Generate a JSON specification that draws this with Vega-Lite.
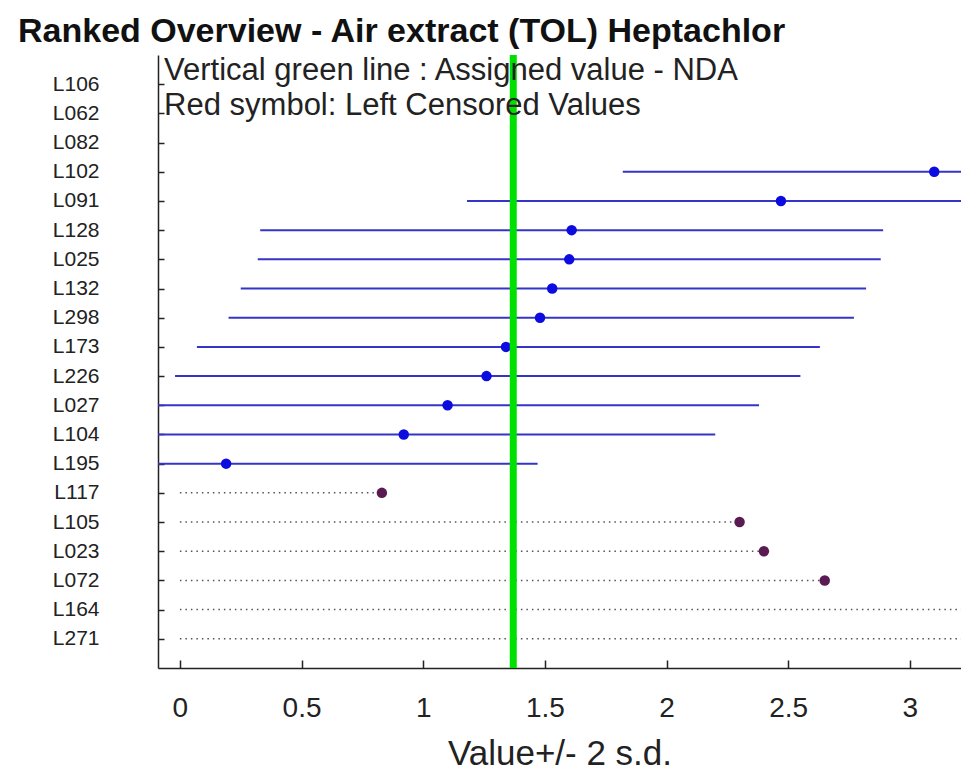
{
  "$schema": "https://vega.github.io/schema/vega-lite/v6.json",
  "width": 803,
  "height": 613,
  "autosize": {"type": "none"},
  "padding": {"left": 158, "top": 55, "right": 0, "bottom": 107},
  "background": "white",
  "config": {"view": {"stroke": null}, "font": "Liberation Sans"},
  "title": {
    "text": "Ranked Overview - Air extract (TOL)  Heptachlor",
    "anchor": "start",
    "frame": "group",
    "dx": -140,
    "dy": 37,
    "fontSize": 34,
    "fontWeight": "bold",
    "font": "Liberation Sans",
    "color": "#111",
    "baseline": "alphabetic",
    "offset": 13
  },
  "data": {
    "values": [
      {"lab": "L106", "type": "none"},
      {"lab": "L062", "type": "none"},
      {"lab": "L082", "type": "none"},
      {"lab": "L102", "type": "ok", "value": 3.10, "lo": 1.82, "hi": 4.38},
      {"lab": "L091", "type": "ok", "value": 2.47, "lo": 1.18, "hi": 3.76},
      {"lab": "L128", "type": "ok", "value": 1.61, "lo": 0.33, "hi": 2.89},
      {"lab": "L025", "type": "ok", "value": 1.60, "lo": 0.32, "hi": 2.88},
      {"lab": "L132", "type": "ok", "value": 1.53, "lo": 0.25, "hi": 2.82},
      {"lab": "L298", "type": "ok", "value": 1.48, "lo": 0.20, "hi": 2.77},
      {"lab": "L173", "type": "ok", "value": 1.34, "lo": 0.07, "hi": 2.63},
      {"lab": "L226", "type": "ok", "value": 1.26, "lo": -0.02, "hi": 2.55},
      {"lab": "L027", "type": "ok", "value": 1.10, "lo": -0.18, "hi": 2.38},
      {"lab": "L104", "type": "ok", "value": 0.92, "lo": -0.36, "hi": 2.20},
      {"lab": "L195", "type": "ok", "value": 0.19, "lo": -1.09, "hi": 1.47},
      {"lab": "L117", "type": "cens", "value": 0.83, "lo": 0, "hi": 0.83},
      {"lab": "L105", "type": "cens", "value": 2.30, "lo": 0, "hi": 2.30},
      {"lab": "L023", "type": "cens", "value": 2.40, "lo": 0, "hi": 2.40},
      {"lab": "L072", "type": "cens", "value": 2.65, "lo": 0, "hi": 2.65},
      {"lab": "L164", "type": "cens", "lo": 0, "hi": 3.6},
      {"lab": "L271", "type": "cens", "lo": 0, "hi": 3.6}
    ]
  },
  "encoding": {
    "y": {
      "field": "lab",
      "type": "nominal",
      "sort": null,
      "scale": {
        "type": "point",
        "padding": 1,
        "domain": ["L106","L062","L082","L102","L091","L128","L025","L132","L298","L173","L226","L027","L104","L195","L117","L105","L023","L072","L164","L271"]
      },
      "axis": {
        "title": null,
        "domainColor": "#222",
        "domainWidth": 1.5,
        "tickColor": "#222",
        "tickSize": -6,
        "tickWidth": 1.5,
        "labelPadding": 65,
        "labelFontSize": 21,
        "labelColor": "#222",
        "labelFont": "Liberation Sans"
      }
    }
  },
  "layer": [
    {
      "transform": [{"filter": "datum.type === 'ok'"}],
      "mark": {"type": "rule", "clip": true, "color": "#3434c8", "strokeWidth": 2},
      "encoding": {
        "x": {
          "field": "lo",
          "type": "quantitative",
          "scale": {"domain": [-0.09, 3.21], "nice": false, "zero": false},
          "axis": {
            "title": "Value+/- 2 s.d.",
            "titleFontSize": 35,
            "titleFontWeight": "normal",
            "titleColor": "#222",
            "titlePadding": 14,
            "titleFont": "Liberation Sans",
            "values": [0, 0.5, 1, 1.5, 2, 2.5, 3],
            "format": "~g",
            "grid": false,
            "domainColor": "#222",
            "domainWidth": 1.5,
            "tickColor": "#222",
            "tickSize": -8,
            "tickWidth": 1.5,
            "labelPadding": 34,
            "labelFontSize": 28,
            "labelColor": "#222",
            "labelFont": "Liberation Sans",
            "labelFlush": false
          }
        },
        "x2": {"field": "hi"}
      }
    },
    {
      "transform": [{"filter": "datum.type === 'cens'"}],
      "mark": {"type": "rule", "clip": true, "color": "#555", "strokeWidth": 1.5, "strokeDash": [1.5, 4]},
      "encoding": {
        "x": {"field": "lo", "type": "quantitative"},
        "x2": {"field": "hi"}
      }
    },
    {
      "transform": [{"filter": "datum.type === 'ok'"}],
      "mark": {"type": "point", "filled": true, "opacity": 1, "size": 110, "color": "#0c0ce0", "clip": true},
      "encoding": {"x": {"field": "value", "type": "quantitative"}}
    },
    {
      "transform": [{"filter": "datum.type === 'cens' && isValid(datum.value)"}],
      "mark": {"type": "point", "filled": true, "opacity": 1, "size": 110, "color": "#5a1a52", "clip": true},
      "encoding": {"x": {"field": "value", "type": "quantitative"}}
    },
    {
      "data": {"values": [{"assigned": 1.37}]},
      "mark": {"type": "rule", "color": "#00e000", "strokeWidth": 7},
      "encoding": {"x": {"field": "assigned", "type": "quantitative"}, "y": null}
    },
    {
      "data": {
        "values": [
          {"t": "Vertical green line : Assigned value -  NDA", "lab": "L106", "xpos": -0.065}
        ]
      },
      "mark": {"type": "text", "align": "left", "baseline": "alphabetic", "dy": -4, "fontSize": 31, "color": "#222", "font": "Liberation Sans"},
      "encoding": {
        "x": {"field": "xpos", "type": "quantitative"},
        "text": {"field": "t"}
      }
    },
    {
      "data": {
        "values": [
          {"t": "Red symbol: Left Censored Values", "lab": "L062", "xpos": -0.065}
        ]
      },
      "mark": {"type": "text", "align": "left", "baseline": "alphabetic", "dy": 2, "fontSize": 31, "color": "#222", "font": "Liberation Sans"},
      "encoding": {
        "x": {"field": "xpos", "type": "quantitative"},
        "text": {"field": "t"}
      }
    }
  ]
}
